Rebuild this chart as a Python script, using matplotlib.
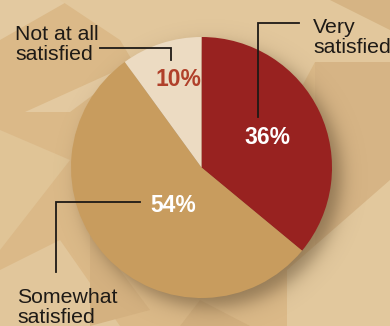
import numpy as np
import matplotlib
matplotlib.use("Agg")
import matplotlib.pyplot as plt
from matplotlib.patches import Polygon

plt.rcParams["font.family"] = ["Liberation Sans", "DejaVu Sans"]

# survey shares, clockwise from 12 o'clock
labels = ["Very\nsatisfied", "Somewhat\nsatisfied", "Not at all\nsatisfied"]
shares = [36, 54, 10]
colors = ["#982220", "#c89c5e", "#ecdbc2"]
pct_colors = ["white", "white", "#b0402a"]

W, H = 390, 326
BG = "#dbb988"
INK = "#1e1a16"

fig = plt.figure(figsize=(W / 100, H / 100), dpi=100)
fig.patch.set_facecolor(BG)
ax = fig.add_axes([0, 0, 1, 1])
ax.set_facecolor(BG)

# decorative backdrop facets (pixel coords, y down)
facets = [
    ([(0, 0), (70, 0), (0, 40)], "#e3c9a0"),
    ([(60, 0), (390, 0), (390, 62), (315, 62), (300, 90), (150, 90), (120, 40)], "#e2c79c"),
    ([(330, 0), (390, 0), (390, 30)], "#d6b484"),
    ([(315, 62), (390, 62), (390, 180), (315, 250)], "#d6b485"),
    ([(287, 326), (287, 270), (390, 180), (390, 326)], "#e2c89d"),
    ([(25, 112), (140, 60), (70, 112)], "#e3c9a0"),
    ([(0, 130), (70, 160), (0, 250)], "#e0c496"),
    ([(0, 270), (60, 240), (120, 326), (0, 326)], "#e1c69b"),
    ([(90, 230), (150, 310), (90, 326)], "#d4b180"),
    ([(200, 300), (250, 326), (180, 326)], "#d3b07f"),
]
for pts, c in facets:
    ax.add_patch(Polygon(pts, closed=True, facecolor=c, edgecolor="none", zorder=0))

# soft drop shadow under the pie
cx, cy, r = 201.5, 167.5, 130.5
yy, xx = np.mgrid[0:H, 0:W] + 0.5
d = np.hypot(xx - (cx + 9), yy - (cy + 9))
alpha = 0.55 / (1 + np.exp((d - r) / 5.5))
shadow = np.zeros((H, W, 4))
shadow[..., :3] = np.array([0x5a, 0x46, 0x2c]) / 255
shadow[..., 3] = alpha
ax.imshow(shadow, extent=(0, W, H, 0), zorder=1, interpolation="bilinear")

wedges, _ = ax.pie(shares, colors=colors, startangle=-90, counterclock=True,
                   center=(cx, cy), radius=r, wedgeprops=dict(linewidth=0))
for w in wedges:
    w.set_zorder(2)

ax.set_xlim(0, W)
ax.set_ylim(H, 0)
ax.set_aspect("equal")
ax.axis("off")

# percentage labels
pct_pos = [(267, 137), (173, 205), (178, 79)]
for v, (x, y), c in zip(shares, pct_pos, pct_colors):
    ax.text(x, y, f"{v}%", color=c, fontsize=16.5, fontweight="bold",
            ha="center", va="center", zorder=4)

# leader lines
leaders = [
    [(258, 117), (258, 23), (299, 23)],
    [(140, 202), (56, 202), (56, 272)],
    [(100, 48), (171, 48), (171, 60)],
]
for pts in leaders:
    xs, ys = zip(*pts)
    ax.plot(xs, ys, color=INK, lw=1.3, solid_joinstyle="miter", zorder=4)

# category names; y is the baseline of the last line
label_pos = [(313, 53), (17, 323), (15, 60)]
for txt, (x, y) in zip(labels, label_pos):
    ax.text(x, y, txt, color=INK, fontsize=15.3, ha="left", va="baseline",
            linespacing=1.05, zorder=4)

fig.savefig("out.png", dpi=100, facecolor=BG)
